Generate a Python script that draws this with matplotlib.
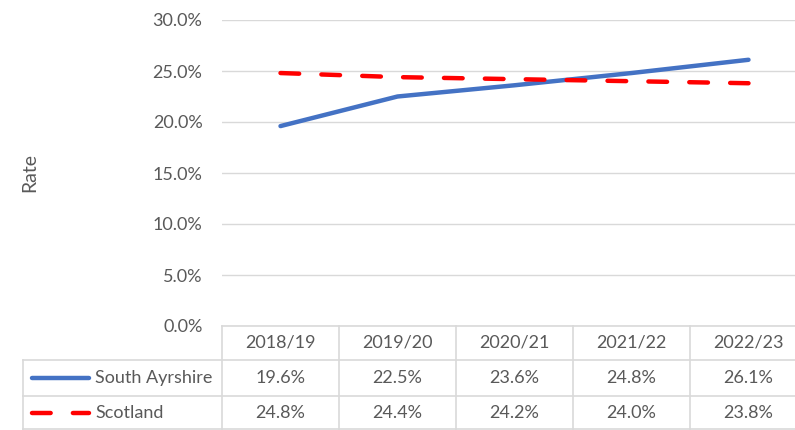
import numpy as np
import matplotlib.pyplot as plt
from matplotlib.lines import Line2D

plt.rcParams['font.family'] = ['Lato', 'DejaVu Sans']

years = ["2018/19", "2019/20", "2020/21", "2021/22", "2022/23"]
south_ayrshire = [19.6, 22.5, 23.6, 24.8, 26.1]
scotland = [24.8, 24.4, 24.2, 24.0, 23.8]
series_names = ["South Ayrshire", "Scotland"]
yticks = [0, 5, 10, 15, 20, 25, 30]

blue = "#4472C4"
red = "#FF0000"
grey_txt = "#595959"
grid_c = "#D9D9D9"
fs = 13

W, H = 795, 430
fig = plt.figure(figsize=(W / 100, H / 100), dpi=100)
# plot area in pixels: left 222, right 807, top 20, bottom 326
ax_l, ax_r, ax_t, ax_b = 222, 807, 20, 326
ax = fig.add_axes([ax_l / W, 1 - ax_b / H, (ax_r - ax_l) / W, (ax_b - ax_t) / H])

x = np.arange(len(years))
ax.plot(x, south_ayrshire, color=blue, lw=3.2, solid_capstyle='round')
ax.plot(x, scotland, color=red, lw=3.2, dashes=(4.2, 5.0), dash_capstyle='round')

ax.set_xlim(-0.5, len(years) - 0.5)
ax.set_ylim(0, 30)
ax.set_yticks(yticks)
ax.set_yticklabels([f"{v:.1f}%" for v in yticks], fontsize=fs, color=grey_txt)
ax.tick_params(axis='y', length=0, pad=14)
ax.set_xticks([])
ax.grid(axis='y', color=grid_c, lw=1)
for s in ax.spines.values():
    s.set_visible(False)
ax.set_axisbelow(True)

fig.text(30 / W, 1 - 173 / H, "Rate", rotation=90, ha='center', va='center',
         fontsize=fs + 1, color=grey_txt)

# data table below the axis (axes-fraction helpers from pixels)
aw, ah = ax_r - ax_l, ax_b - ax_t
def fx(px):
    return (px - ax_l) / aw
def fy(py):
    return (ax_b - py) / ah

tr = ax.transAxes
xt = ax.get_xaxis_transform()
rows = [326, 360, 396, 430]
leg_l = 23

def hline(x0, x1, y):
    ax.add_line(Line2D([fx(x0), fx(x1)], [fy(y), fy(y)], transform=tr,
                       color=grid_c, lw=1.2, clip_on=False))

def vline(xa, y0, y1, trans=tr):
    ax.add_line(Line2D([xa, xa], [fy(y0), fy(y1)], transform=trans,
                       color=grid_c, lw=1.2, clip_on=False))

hline(ax_l, ax_r, rows[0])
hline(leg_l, ax_r, rows[1])
hline(leg_l, ax_r, rows[2])
hline(leg_l, ax_r, rows[3] - 1.5)
for k in range(len(years) + 1):
    vline(k - 0.5, rows[0], rows[3], trans=xt)
vline(fx(leg_l), rows[1], rows[3])

for i, yr in enumerate(years):
    ax.text(i, fy((rows[0] + rows[1]) / 2), yr, transform=xt, ha='center',
            va='center', fontsize=fs, color=grey_txt, clip_on=False)
    ax.text(i, fy((rows[1] + rows[2]) / 2), f"{south_ayrshire[i]:.1f}%", transform=xt,
            ha='center', va='center', fontsize=fs, color=grey_txt, clip_on=False)
    ax.text(i, fy((rows[2] + rows[3]) / 2), f"{scotland[i]:.1f}%", transform=xt,
            ha='center', va='center', fontsize=fs, color=grey_txt, clip_on=False)

# legend keys in the table
yc1 = fy((rows[1] + rows[2]) / 2)
yc2 = fy((rows[2] + rows[3]) / 2)
ax.add_line(Line2D([fx(32), fx(89)], [yc1, yc1], transform=tr, color=blue, lw=3.2,
                   solid_capstyle='round', clip_on=False))
ax.add_line(Line2D([fx(32), fx(89)], [yc2, yc2], transform=tr, color=red, lw=3.2,
                   dashes=(4.2, 5.0), dash_capstyle='round', clip_on=False))
ax.text(fx(95), yc1, series_names[0], transform=tr, ha='left', va='center',
        fontsize=fs, color=grey_txt, clip_on=False)
ax.text(fx(95), yc2, series_names[1], transform=tr, ha='left', va='center',
        fontsize=fs, color=grey_txt, clip_on=False)

fig.savefig("out.png", dpi=100)
